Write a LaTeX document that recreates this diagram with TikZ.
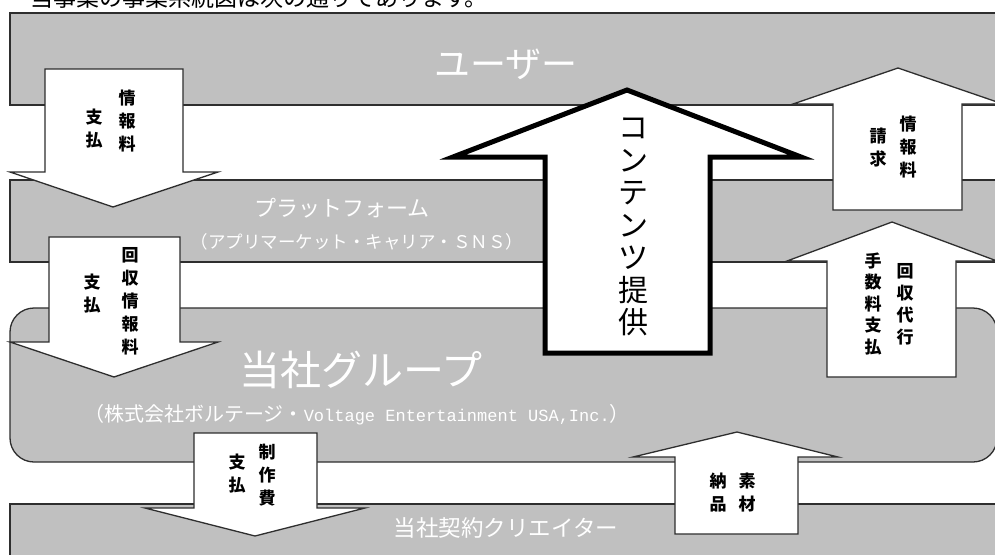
\documentclass[tikz,border=0pt]{standalone}
\usepackage{fontspec}
\newfontfamily\jp{Noto Sans CJK JP}
\newfontfamily\latmono{Liberation Mono}
\definecolor{bandgray}{HTML}{C0C0C0}
\definecolor{edgegray}{HTML}{2E2E2E}
\begin{document}
\begin{tikzpicture}[x=1pt,y=-1pt,
  band/.style={fill=bandgray, draw=edgegray, line width=1.3pt},
  arrowshape/.style={fill=white, draw=edgegray, line width=1.3pt, line join=miter},
  bigarrow/.style={fill=white, draw=black, line width=5pt, line join=miter},
  bandlabel/.style={text=white, inner sep=0pt},
  vlabel/.style={inner sep=0pt, align=center, font=\jp\bfseries\fontsize{17}{23}\selectfont}
]
\useasboundingbox (0,0) rectangle (995,554);
\begin{scope}
\clip (0,0) rectangle (995,554);
\fill[white] (0,0) rectangle (995,554);
% title
\node[inner sep=0pt, font=\jp\fontsize{23}{23}\selectfont] (title) at (259,-2) {当事業の事業系統図は次の通りであります。};
% bands
\draw[band] (1010,13) -- (10,13) -- (10,105) -- (1010,105);
\draw[band] (1010,180) -- (10,180) -- (10,262) -- (1010,262);
\draw[band, rounded corners=24] (10,308) rectangle (997,462);
\draw[band] (1010,504) -- (10,504) -- (10,570) -- (1010,570);
% band labels
\node[bandlabel, font=\jp\fontsize{36}{36}\selectfont] (user) at (506,64) {ユーザー};
\node[bandlabel, font=\jp\fontsize{22}{22}\selectfont] (platform) at (342,208) {プラットフォーム};
\node[bandlabel, font=\jp\fontsize{17.5}{17.5}\selectfont] (platformsub) at (357,242) {（アプリマーケット・キャリア・ＳＮＳ）};
\node[bandlabel, font=\jp\fontsize{41}{41}\selectfont] (group) at (361,370) {当社グループ};
\node[bandlabel, font=\jp\fontsize{20}{20}\selectfont] (groupsub) at (357,415) {（株式会社ボルテージ・{\latmono\fontsize{17}{17}\selectfont Voltage Entertainment USA,Inc.}）};
\node[bandlabel, font=\jp\fontsize{22.5}{22.5}\selectfont] (creator) at (506,528) {当社契約クリエイター};
% arrows
\draw[arrowshape] (45,69) -- (183,69) -- (183,172) -- (218,172) -- (113,207) -- (10,172) -- (45,172) -- cycle;
\draw[arrowshape] (49,237) -- (180,237) -- (180,342) -- (218,342) -- (114,377) -- (10,342) -- (49,342) -- cycle;
\draw[arrowshape] (194,433) -- (317,433) -- (317,508) -- (365,508) -- (255,536) -- (145,508) -- (194,508) -- cycle;
\draw[arrowshape] (675,534) -- (675,457) -- (633,457) -- (737,432) -- (838,457) -- (798,457) -- (798,534) -- cycle;
\draw[arrowshape] (833,210) -- (833,104) -- (793,104) -- (898,68) -- (1003,104) -- (962,104) -- (962,210) -- cycle;
\draw[arrowshape] (827,377) -- (827,261) -- (787,261) -- (892,222) -- (997,261) -- (956,261) -- (956,377) -- cycle;
\draw[bigarrow] (545,353) -- (545,157) -- (453,157) -- (627,90) -- (801,157) -- (710,157) -- (710,353) -- cycle;
% arrow labels
\node[vlabel] (a1r) at (127,121) {情\\報\\料};
\node[vlabel] (a1l) at (94,129) {支\\払};
\node[vlabel] (a2r) at (130,301) {回\\収\\情\\報\\料};
\node[vlabel] (a2l) at (92,294) {支\\払};
\node[vlabel] (a3r) at (267,475) {制\\作\\費};
\node[vlabel] (a3l) at (237,474) {支\\払};
\node[vlabel] (a4r) at (747,493) {素\\材};
\node[vlabel] (a4l) at (718,493) {納\\品};
\node[vlabel] (r1r) at (908,147) {情\\報\\料};
\node[vlabel] (r1l) at (878,148) {請\\求};
\node[vlabel, font=\jp\bfseries\fontsize{17}{22}\selectfont] (r2r) at (905,304) {回\\収\\代\\行};
\node[vlabel, font=\jp\bfseries\fontsize{17}{21.5}\selectfont] (r2l) at (873,304) {手\\数\\料\\支\\払};
\node[vlabel, font=\jp\fontsize{30}{32.5}\selectfont] (content) at (633,227) {コ\\ン\\テ\\ン\\ツ\\提\\供};
\end{scope}
\end{tikzpicture}
\end{document}
